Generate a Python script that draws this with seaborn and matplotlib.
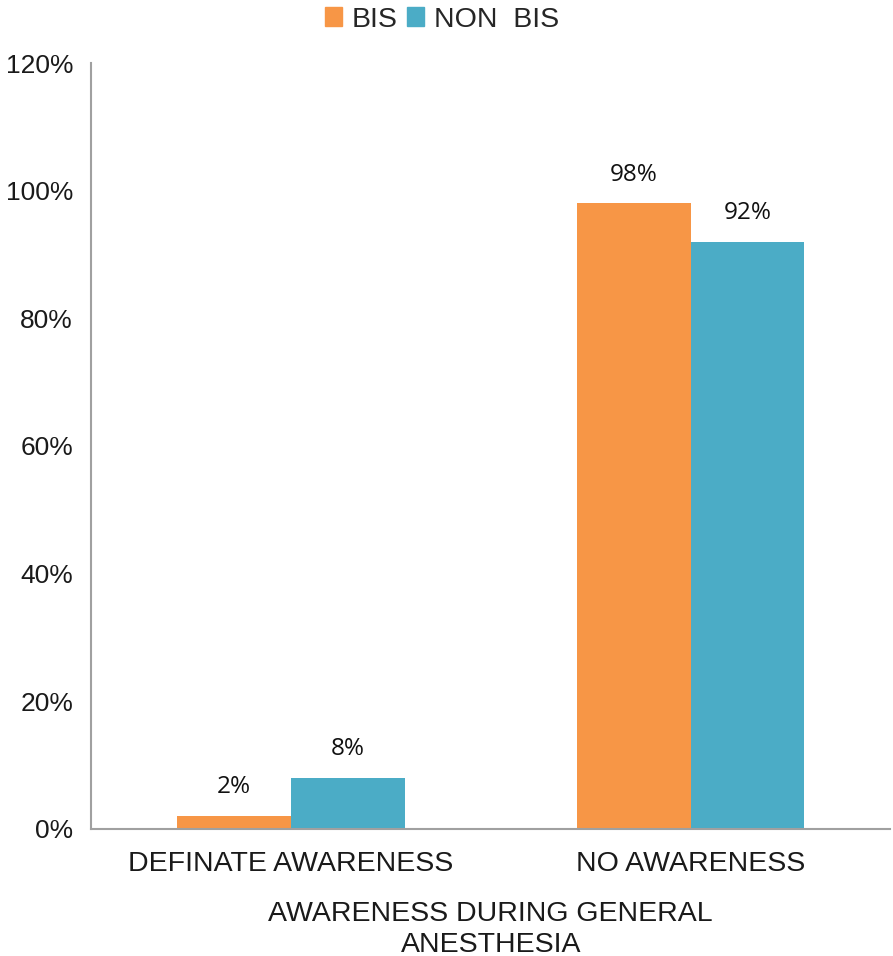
import matplotlib
matplotlib.use("Agg")
import matplotlib.pyplot as plt
import seaborn as sns
import pandas as pd
from matplotlib.ticker import FuncFormatter

categories = ["DEFINATE AWARENESS", "NO AWARENESS"]
groups = ["BIS", "NON  BIS"]
bis_values = [2, 98]
non_bis_values = [8, 92]
palette = ["#F79646", "#4BACC6"]

df = pd.DataFrame({
    "category": categories * 2,
    "group": [groups[0]] * 2 + [groups[1]] * 2,
    "value": bis_values + non_bis_values,
})

sns.set_style("white")
plt.rcParams['font.family'] = ['Liberation Sans', 'DejaVu Sans']

fig = plt.figure(figsize=(8.93, 9.56), dpi=100)
ax = fig.add_axes([0.102, 0.133, 0.895, 0.801])

sns.barplot(data=df, x="category", y="value", hue="group", palette=palette,
            width=0.57, saturation=1, linewidth=0, ax=ax, legend=False)

for cont in ax.containers:
    ax.bar_label(cont, labels=[f"{v:.0f}%" for v in cont.datavalues],
                 padding=12, fontsize=17.5, family="Open Sans", color="#111111")

ax.set_ylim(0, 120)
ax.set_xlim(-0.5, 1.5)
ax.set_yticks(range(0, 121, 20))
ax.yaxis.set_major_formatter(FuncFormatter(lambda v, p: f"{v:.0f}%"))
ax.tick_params(axis="y", labelsize=19, length=0, pad=13, colors="#1a1a1a")
ax.tick_params(axis="x", labelsize=20.5, length=0, pad=16, colors="#1a1a1a")
ax.set_ylabel("")
ax.set_xlabel("AWARENESS DURING GENERAL\nANESTHESIA", fontsize=20.5, color="#1a1a1a",
              labelpad=17, linespacing=1.25)

sns.despine(ax=ax)
for s in ["left", "bottom"]:
    ax.spines[s].set_color("#A0A0A0")
    ax.spines[s].set_linewidth(1.5)

handles = [plt.Rectangle((0, 0), 1, 1, color=c) for c in palette]
fig.legend(handles, groups, loc="upper center", bbox_to_anchor=(0.495, 1.02), ncol=2,
           frameon=False, fontsize=20.5, handlelength=0.6, handleheight=0.6,
           handletextpad=0.35, columnspacing=0.35)

fig.savefig("out.png", dpi=100)
